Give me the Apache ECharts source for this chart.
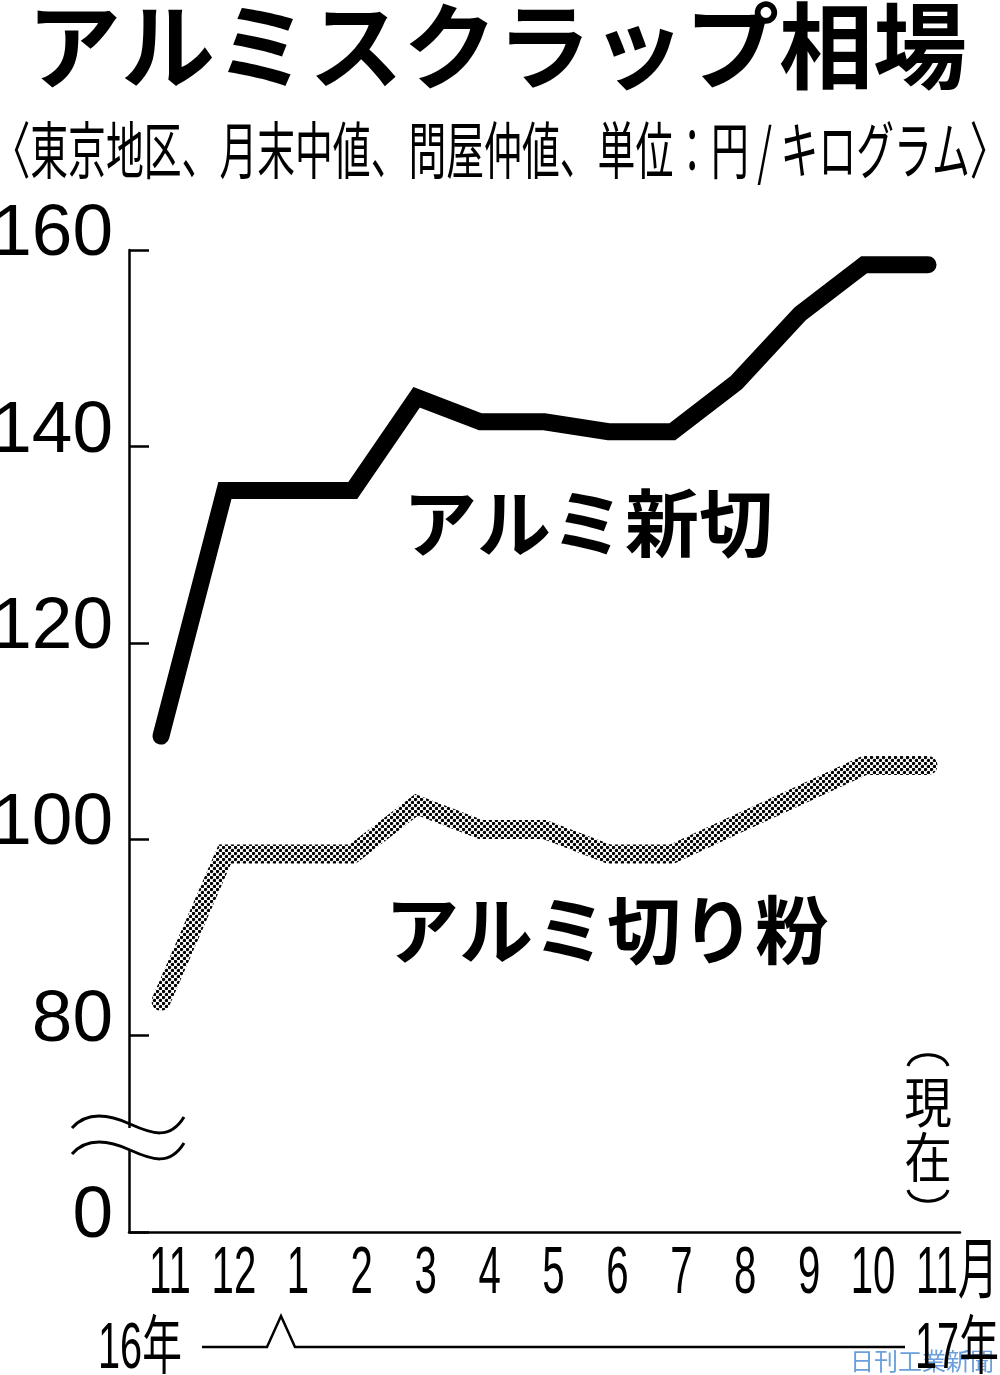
<!DOCTYPE html>
<html>
<head>
<meta charset="utf-8">
<script src="https://cdn.jsdelivr.net/npm/echarts@6/dist/echarts.min.js"></script>
<style>
  html, body { margin: 0; padding: 0; background: #fff; }
  #chart { width: 1000px; height: 1375px; }
</style>
</head>
<body>
<div id="chart"></div>
<script>
// months on the x axis (Nov 2016 .. Nov 2017)
var months = ['11', '12', '1', '2', '3', '4', '5', '6', '7', '8', '9', '10', '11月'];
// アルミ新切 (yen / kg)
var shinkiri = [110.5, 135.5, 135.5, 135.5, 145, 142.5, 142.5, 141.5, 141.5, 146.5, 153.5, 158.5, 158.5];
// アルミ切り粉 (yen / kg)
var kiriko = [83.5, 98.5, 98.5, 98.5, 103.5, 101, 101, 98.5, 98.5, 101.5, 104.5, 107.5, 107.5];
// y ticks; the bottom one sits under the axis break and reads 0
var yTickValues = [60, 80, 100, 120, 140, 160];
var yTickLabels = ['0', '80', '100', '120', '140', '160'];

var numFont = '"Liberation Sans", Arial, sans-serif';
var jpFont = '"Noto Sans CJK JP", sans-serif';
var mixFont = '"Liberation Sans", "Noto Sans CJK JP", sans-serif';

// halftone dots for the 切り粉 line
function dotPattern() {
    var c = document.createElement('canvas');
    c.width = 6; c.height = 6;
    var ctx = c.getContext('2d');
    ctx.fillStyle = '#ffffff';
    ctx.fillRect(0, 0, 6, 6);
    ctx.fillStyle = '#000000';
    [[1.5, 1.5], [4.5, 4.5]].forEach(function(p) {
        ctx.beginPath();
        ctx.arc(p[0], p[1], 1.7, 0, Math.PI * 2);
        ctx.fill();
    });
    return { image: c, repeat: 'repeat' };
}

function curve(x1, y1, cx1, cy1, cx2, cy2, x2, y2) {
    return {
        type: 'bezierCurve', z: 51,
        shape: { x1: x1, y1: y1, cpx1: cx1, cpy1: cy1, cpx2: cx2, cpy2: cy2, x2: x2, y2: y2 },
        style: { fill: null, stroke: '#000', lineWidth: 3 }
    };
}

function label(text, x, y, size, align, scaleX, weight) {
    return {
        type: 'text', x: x, y: y, scaleX: scaleX || 1, z: 50,
        style: {
            text: text,
            font: (weight || 'normal') + ' ' + size + 'px ' + mixFont,
            fill: '#000', align: align || 'center', verticalAlign: 'middle'
        }
    };
}

var chart = echarts.init(document.getElementById('chart'), null, { renderer: 'canvas' });

var option = {
    backgroundColor: '#ffffff',
    animation: false,
    title: {
        text: 'アルミスクラップ相場',
        left: 492,
        top: -6,
        textAlign: 'center',
        textStyle: {
            fontFamily: jpFont,
            fontWeight: 'bold',
            fontSize: 94,
            color: '#000'
        }
    },
    grid: { left: 129, right: 40, top: 250, bottom: 143, outerBoundsMode: 'none', containLabel: false },
    xAxis: {
        type: 'category',
        data: months,
        boundaryGap: true,
        axisLine: { lineStyle: { color: '#000', width: 2.5 } },
        axisTick: { inside: true, length: 25, lineStyle: { color: '#000', width: 2.5 } },
        // month labels are drawn below as squeezed text at the axis positions
        axisLabel: { show: false }
    },
    yAxis: {
        type: 'value',
        min: 60,
        max: 160,
        interval: 20,
        splitLine: { show: false },
        axisLine: { show: true, lineStyle: { color: '#000', width: 2.5 } },
        axisTick: { show: true, inside: true, length: 20, lineStyle: { color: '#000', width: 2.5 } },
        axisLabel: {
            margin: 16,
            color: '#000',
            fontFamily: numFont,
            fontSize: 73,
            lineHeight: 30,
            verticalAlign: 'bottom',
            formatter: function(v) {
                var i = yTickValues.indexOf(v);
                return i >= 0 ? yTickLabels[i] : '';
            }
        }
    },
    series: [
        {
            name: 'アルミ切り粉',
            type: 'line',
            data: kiriko,
            showSymbol: false,
            lineStyle: { color: dotPattern(), width: 19, cap: 'round', join: 'miter' },
            z: 3
        },
        {
            name: 'アルミ新切',
            type: 'line',
            data: shinkiri,
            showSymbol: false,
            lineStyle: { color: '#000', width: 17, cap: 'round', join: 'miter' },
            z: 4
        }
    ]
};

chart.setOption(option);

var graphics = [
    // subtitle, squeezed like the newspaper type
    {
        type: 'text', x: 500, y: 150, scaleX: 0.61, z: 50,
        style: {
            text: '〈東京地区、月末中値、問屋仲値、単位：円 / キログラム〉',
            font: '62px "Noto Sans CJK JP"', fill: '#000',
            align: 'center', verticalAlign: 'middle'
        }
    },
    // series names
    {
        type: 'text', x: 588, y: 523, z: 50,
        style: { text: 'アルミ新切', font: 'bold 74px "Noto Sans CJK JP"', fill: '#000', align: 'center', verticalAlign: 'middle' }
    },
    {
        type: 'text', x: 607, y: 930, z: 50,
        style: { text: 'アルミ切り粉', font: 'bold 74px "Noto Sans CJK JP"', fill: '#000', align: 'center', verticalAlign: 'middle' }
    },
    // axis break
    {
        type: 'rect', z: 50,
        shape: { x: 122, y: 1128, width: 14, height: 22 },
        style: { fill: '#fff' }
    },
    curve(72, 1128, 86, 1112, 108, 1114, 130, 1124),
    curve(130, 1124, 152, 1134, 170, 1140, 184, 1117),
    curve(72, 1154, 86, 1138, 108, 1140, 130, 1150),
    curve(130, 1150, 152, 1160, 170, 1166, 184, 1143),
    // (現在) written vertically
    curve(908, 1066, 912, 1051, 944, 1051, 948, 1066),
    {
        type: 'text', x: 928, y: 1102, z: 50, scaleX: 0.88,
        style: { text: '現', font: '54px "Noto Sans CJK JP"', fill: '#000', align: 'center', verticalAlign: 'middle' }
    },
    {
        type: 'text', x: 928, y: 1157, z: 50, scaleX: 0.88,
        style: { text: '在', font: '54px "Noto Sans CJK JP"', fill: '#000', align: 'center', verticalAlign: 'middle' }
    },
    curve(908, 1190, 912, 1205, 944, 1205, 948, 1190),
    // watermark
    {
        type: 'text', x: 850, y: 1361, z: 49,
        style: { text: '日刊工業新聞', font: '24px "Noto Sans CJK JP"', fill: '#6a9fdc', align: 'left', verticalAlign: 'middle' }
    },
    // year bracket under the months
    {
        type: 'polyline', z: 50,
        shape: { points: [[202, 1347], [267, 1347], [281, 1316], [295, 1347], [905, 1347]] },
        style: { stroke: '#000', lineWidth: 2.5, fill: null }
    },
    label('16年', 98, 1350, 64, 'left', 0.62),
    label('17年', 915, 1350, 64, 'left', 0.62)
];

// month labels, placed with the category axis scale
months.forEach(function(m, i) {
    var x = chart.convertToPixel({ xAxisIndex: 0 }, i);
    if (i === months.length - 1) {
        graphics.push(label(m, x - 12, 1275, 67, 'left', 0.6));
    } else {
        graphics.push(label(m, x + 9, 1275, 67, 'center', 0.6));
    }
});

chart.setOption({ graphic: graphics });
</script>
</body>
</html>
